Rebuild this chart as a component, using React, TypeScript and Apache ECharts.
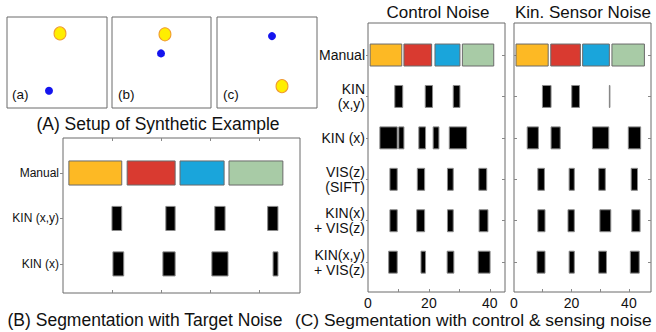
import React, { useEffect, useRef } from "react";
import * as echarts from "echarts";

// Panel A: synthetic example frames (position in % of each frame box)
const frameLabels = ["(a)", "(b)", "(c)"];
const yellowDots = [[53, 82], [53.5, 81], [65, 24]];
const blueDots = [[42, 19], [49.5, 60], [55, 79]];

// Panel B: segmentation with target noise
const rowsB = ["Manual", "KIN (x,y)", "KIN (x)"];
const bManual = [[1.2, 12.0], [13.1, 22.9], [23.9, 32.9], [33.9, 44.9]];
const bKinXY = [[10.0, 12.0], [21.0, 22.9], [31.0, 33.1], [41.8, 43.9]];
const bKinX = [[10.2, 12.4], [20.4, 22.9], [30.4, 33.7], [42.9, 43.9]];

// Panel C: control noise / kinematic sensor noise
const rowsC = ["Manual", "KIN\n(x,y)", "KIN (x)", "VIS(z)\n(SIFT)", "KIN(x)\n+ VIS(z)", "KIN(x,y)\n+ VIS(z)"];
const ctrlManual = [[0.7, 11.1], [11.8, 20.9], [22.0, 30.2], [31.0, 41.3]];
const ctrlKinXY = [[8.8, 11.4], [18.8, 21.2], [28.0, 30.2]];
const ctrlKinX = [[3.9, 9.6], [10.1, 11.8], [16.7, 18.9], [21.4, 23.3], [26.7, 32.4]];
const ctrlVis = [[7.2, 9.6], [16.2, 18.6], [26.1, 28.0], [36.4, 39.0]];
const ctrlKinXVis = [[7.2, 9.6], [16.0, 18.6], [26.1, 28.0], [36.5, 39.4]];
const ctrlKinXYVis = [[6.8, 9.6], [17.4, 18.9], [26.0, 28.2], [36.2, 40.1]];

const sensManual = [[0.7, 11.9], [12.8, 23.1], [23.9, 33.2], [34.1, 45.4]];
const sensKinXY = [[9.9, 12.9], [20.1, 22.8], [33.2, 33.4]];
const sensKinX = [[4.6, 8.5], [12.9, 16.1], [27.3, 33.0], [39.8, 44.1]];
const sensVis = [[8.3, 10.6], [19.2, 21.0], [29.5, 31.8], [40.8, 43.0]];
const sensKinXVis = [[8.3, 10.8], [18.8, 21.0], [29.9, 33.7], [41.0, 43.9]];
const sensKinXYVis = [[8.0, 10.8], [19.2, 21.0], [29.5, 32.2], [40.5, 43.6]];

const cTickLabels = [0, 20, 40];
const cTicks = [10, 20, 30, 40];

const segColors = ["#FDB924", "#D93A30", "#1AA5DB", "#A8CBA6", "#000000"];
const FONT = '"Liberation Sans", Arial, Helvetica, sans-serif';
const BAR_H = 0.53;

function buildRows(rows: number[][][]) {
  const out: number[][] = [];
  rows.forEach((segs, ri) => {
    segs.forEach((s, si) => {
      out.push([s[0], s[1], ri + 1, ri === 0 ? si : 4]);
    });
  });
  return out;
}

const renderSeg = (params: any, api: any) => {
  const s = api.value(0);
  const e = api.value(1);
  const r = api.value(2);
  const c = api.value(3);
  const p0 = api.coord([s, r]);
  const p1 = api.coord([e, r]);
  const h = api.size([0, BAR_H])[1];
  return {
    type: "rect",
    shape: { x: p0[0], y: p0[1] - h / 2, width: Math.max(p1[0] - p0[0], 0.5), height: h },
    style: { fill: segColors[c], stroke: c === 4 ? "#8a8a8a" : "#6a6a6a", lineWidth: 1 },
  };
};

export default function App() {
  const ref = useRef<HTMLDivElement>(null);
  useEffect(() => {
    if (!ref.current) return;
    const chart = echarts.init(ref.current, null, { renderer: "svg" });

    const grids: any[] = [
      { left: 7, top: 17, width: 100, height: 91 },
      { left: 112, top: 17, width: 99, height: 91 },
      { left: 217, top: 17, width: 100, height: 91 },
      { left: 63, top: 138, width: 237, height: 155 },
      { left: 368, top: 23, width: 137, height: 269 },
      { left: 514, top: 23, width: 137, height: 269 },
    ].map((g) => ({ ...g, show: true, borderColor: "#6a6a6a", borderWidth: 1, backgroundColor: "transparent" }));

    const xAxes: any[] = [];
    const yAxes: any[] = [];
    for (let i = 0; i < 3; i++) {
      xAxes.push({ gridIndex: i, type: "value", min: 0, max: 100, show: false });
      yAxes.push({ gridIndex: i, type: "value", min: 0, max: 100, show: false });
    }
    const tickStyle = { show: true, inside: true, length: 3, lineStyle: { color: "#888" } };
    const outTick = { show: true, inside: false, length: 2, lineStyle: { color: "#888" } };
    // B axes
    xAxes.push({
      gridIndex: 3, type: "value", min: 0, max: 48.4, position: "bottom",
      axisLine: { show: false }, splitLine: { show: false }, axisLabel: { show: false },
      axisTick: { ...tickStyle, customValues: [10, 20, 30, 40] },
    });
    xAxes.push({
      gridIndex: 3, type: "value", min: 0, max: 48.4, position: "top",
      axisLine: { show: false }, splitLine: { show: false }, axisLabel: { show: false },
      axisTick: { ...tickStyle, customValues: [10, 20, 30, 40] },
    });
    yAxes.push({
      gridIndex: 3, type: "value", inverse: true, min: 0.23, max: 3.64, position: "left",
      axisLine: { show: false }, splitLine: { show: false },
      axisTick: { ...outTick, customValues: [1, 2, 3] },
      axisLabel: {
        customValues: [1, 2, 3], margin: 4, color: "#111", fontFamily: FONT, fontSize: 12,
        formatter: (v: number) => rowsB[Math.round(v) - 1] || "",
      },
    });
    yAxes.push({
      gridIndex: 3, type: "value", inverse: true, min: 0.23, max: 3.64, position: "right",
      axisLine: { show: false }, splitLine: { show: false },
      axisTick: { ...tickStyle, customValues: [1, 2, 3] }, axisLabel: { show: false },
    });
    // C axes
    const cMax = [45, 47.7];
    [4, 5].forEach((gi, k) => {
      xAxes.push({
        gridIndex: gi, type: "value", min: 0, max: cMax[k], position: "bottom",
        axisLine: { show: false }, splitLine: { show: false },
        axisTick: { ...tickStyle, customValues: cTicks },
        axisLabel: { customValues: cTickLabels, margin: 4, color: "#111", fontFamily: FONT, fontSize: 14 },
      });
      yAxes.push({
        gridIndex: gi, type: "value", inverse: true, min: 0.227, max: 6.72, position: "left",
        axisLine: { show: false }, splitLine: { show: false },
        axisTick: { ...(k === 0 ? outTick : tickStyle), customValues: [1, 2, 3, 4, 5, 6] },
        axisLabel: k === 0 ? {
          customValues: [1, 2, 3, 4, 5, 6], margin: 3, color: "#111", fontFamily: FONT, fontSize: 14,
          lineHeight: 15, align: "right",
          formatter: (v: number) => rowsC[Math.round(v) - 1] || "",
        } : { show: false },
      });
      yAxes.push({
        gridIndex: gi, type: "value", inverse: true, min: 0.227, max: 6.72, position: "right",
        axisLine: { show: false }, splitLine: { show: false },
        axisTick: { ...tickStyle, customValues: [1, 2, 3, 4, 5, 6] }, axisLabel: { show: false },
      });
    });

    const series: any[] = [];
    for (let i = 0; i < 3; i++) {
      series.push({
        type: "scatter", xAxisIndex: i, yAxisIndex: i, data: [yellowDots[i]],
        symbol: "circle", symbolSize: [12, 13],
        itemStyle: { color: "#FFEE00", borderColor: "#F09A30", borderWidth: 1, opacity: 1 },
      });
      series.push({
        type: "scatter", xAxisIndex: i, yAxisIndex: i, data: [blueDots[i]],
        symbol: "circle", symbolSize: 8,
        itemStyle: { color: "#1414EE", opacity: 1 },
      });
    }
    series.push({
      type: "custom", xAxisIndex: 3, yAxisIndex: 3, renderItem: renderSeg,
      data: buildRows([bManual, bKinXY, bKinX]), encode: { x: [0, 1], y: 2 },
    });
    series.push({
      type: "custom", xAxisIndex: 5, yAxisIndex: 5, renderItem: renderSeg,
      data: buildRows([ctrlManual, ctrlKinXY, ctrlKinX, ctrlVis, ctrlKinXVis, ctrlKinXYVis]),
      encode: { x: [0, 1], y: 2 },
    });
    series.push({
      type: "custom", xAxisIndex: 6, yAxisIndex: 7, renderItem: renderSeg,
      data: buildRows([sensManual, sensKinXY, sensKinX, sensVis, sensKinXVis, sensKinXYVis]),
      encode: { x: [0, 1], y: 2 },
    });

    const txt = (text: string, x: number, y: number, size: number, align = "center") => ({
      type: "text", x, y, silent: true,
      style: {
        text, font: `${size}px ${FONT}`, fill: "#111",
        textAlign: align, textVerticalAlign: "middle", align, verticalAlign: "middle",
      },
    });

    const graphics: any[] = [
      txt(frameLabels[0], 12, 94, 13.5, "left"),
      txt(frameLabels[1], 118, 94, 13.5, "left"),
      txt(frameLabels[2], 223, 94, 13.5, "left"),
      txt("(A) Setup of Synthetic Example", 158, 124, 17.5),
      txt("(B) Segmentation with Target Noise", 145, 320, 17.5),
      txt("Control Noise", 438, 12, 17),
      txt("Kin. Sensor Noise", 583, 12, 17),
      txt("(C) Segmentation with control & sensing noise", 295, 320, 17.4, "left"),
    ];

    chart.setOption({
      animation: false,
      backgroundColor: "#ffffff",
      textStyle: { fontFamily: FONT },
      grid: grids,
      xAxis: xAxes,
      yAxis: yAxes,
      series,
      graphic: graphics,
    });
    return () => chart.dispose();
  }, []);
  return <div ref={ref} style={{ position: "fixed", left: 0, top: 0, width: 656, height: 332 }} />;
}
